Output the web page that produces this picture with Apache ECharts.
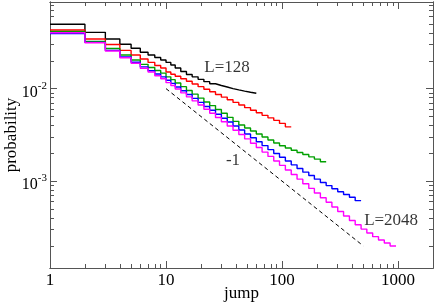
<!DOCTYPE html>
<html><head><meta charset="utf-8">
<script src="https://cdn.jsdelivr.net/npm/echarts@6/dist/echarts.min.js"></script>
<style>html,body{margin:0;padding:0;background:#fff}#c{width:436px;height:304px}</style>
</head><body><div id="c"></div>
<script>
// bin edges of the jump histogram (left edge of each step)
const binEdges = [1,2,3,4,5,6,7,8,9,10,11,12,13.4,15,16.8,18.9,21.2,23.8,26.7,30,33.7,37.8,42.4,47.6,53.5,60,67.3,75.6,84.8,95.1,106.8,120,134.7,151,170,190,214,240,269,302,339,381,427,480,538,604,678,761,854,960];

const probL128 = [0.0496,0.0406,0.0344,0.0302,0.0273,0.0247,0.0231,0.0217,0.0204,0.0192,0.0180,0.0167,0.0153,0.0142,0.0134,0.0126,0.0119,0.0113,0.0108,0.0104,0.0100,0.00968,0.00940,0.00914,0.00892];
const probL256 = [0.0431,0.0344,0.0300,0.0259,0.0231,0.0209,0.0192,0.0178,0.0167,0.0151,0.0143,0.0136,0.0128,0.0120,0.0112,0.0105,0.00983,0.00924,0.00864,0.00810,0.00759,0.00710,0.00665,0.00623,0.00584,0.00548,0.00514,0.00483,0.00454,0.00421,0.00386];
const probL512 = [0.0415,0.0323,0.0272,0.0231,0.0204,0.0183,0.0169,0.0157,0.0147,0.0134,0.0125,0.0115,0.0105,0.00956,0.00872,0.00790,0.00718,0.00655,0.00595,0.00541,0.00489,0.00443,0.00404,0.00375,0.00348,0.00323,0.00300,0.00278,0.00258,0.00241,0.00228,0.00216,0.00204,0.00194,0.00183,0.00173,0.00162];
const probL1024 = [0.0395,0.0316,0.0259,0.0220,0.0193,0.0172,0.0156,0.0144,0.0134,0.0123,0.0114,0.0104,0.00949,0.00864,0.00784,0.00710,0.00642,0.00584,0.00529,0.00478,0.00435,0.00394,0.00357,0.00323,0.00294,0.00266,0.00242,0.00219,0.00199,0.00181,0.00165,0.00150,0.00137,0.00125,0.00115,0.00105,0.000968,0.000894,0.000828,0.000768,0.000717,0.000670,0.000615];
const probL2048 = [0.0402,0.0313,0.0255,0.0216,0.0188,0.0166,0.0151,0.0138,0.0128,0.0116,0.0108,0.00990,0.00899,0.00814,0.00737,0.00664,0.00599,0.00541,0.00488,0.00438,0.00395,0.00355,0.00319,0.00286,0.00257,0.00231,0.00206,0.00185,0.00165,0.00148,0.00132,0.00118,0.00105,0.000935,0.000834,0.000744,0.000662,0.000590,0.000526,0.000469,0.000420,0.000375,0.000337,0.000303,0.000275,0.000251,0.000231,0.000214,0.000199];

const seriesNames = ['L=128','L=256','L=512','L=1024','L=2048'];
const seriesValues = [probL128, probL256, probL512, probL1024, probL2048];
const seriesColors = ['#000000','#ff0000','#00a000','#0000ff','#ff00ff'];

// slope -1 guide line
const guideX = [10, 500];
const guideY = [0.01, 0.0002];

// text annotations
const noteText = ['L=128', '-1', 'L=2048'];
const noteX = [33.6, 37.8, 871];
const noteY = [0.0167, 0.00166, 0.000373];

// axis ticks
const xMajorTicks = [1, 10, 100, 1000];
const xMinorTicks = [2,3,4,5,6,7,8,9,20,30,40,50,60,70,80,90,200,300,400,500,600,700,800,900];
const yMajorTicks = [0.001, 0.01];
const yMinorTicks = [0.0002,0.0003,0.0004,0.0005,0.0006,0.0007,0.0008,0.0009,0.002,0.003,0.004,0.005,0.006,0.007,0.008,0.009,0.02,0.03,0.04,0.05,0.06,0.07,0.08];

const X_MIN = 1, X_MAX = 2000, Y_MIN = 0.000115, Y_MAX = 0.0864;
const AX = '#555';
const FONT = '"Liberation Serif", "DejaVu Serif", serif';

function stepData(vals) {
  const pts = vals.map((v, i) => [binEdges[i], v]);
  pts.push([binEdges[vals.length], vals[vals.length - 1]]);
  return pts;
}

function xAxisDef(pos, ticks, len, withLabels) {
  const a = {
    type: 'log', logBase: 10, min: X_MIN, max: X_MAX, position: pos, gridIndex: 0,
    axisLine: {show: true, onZero: false, lineStyle: {color: AX, width: 1}},
    axisTick: {show: true, inside: true, length: len, customValues: ticks, lineStyle: {color: AX, width: 1}},
    axisLabel: {show: false},
    splitLine: {show: false}, minorTick: {show: false}
  };
  if (withLabels) {
    a.axisLabel = {show: true, customValues: xMajorTicks, margin: 4, color: '#000', fontFamily: FONT, fontSize: 17,
      formatter: v => String(Math.round(v))};
    a.name = 'jump'; a.nameLocation = 'middle'; a.nameGap = 17; a.nameMoveOverlap = false;
    a.nameTextStyle = {color: '#000', fontFamily: FONT, fontSize: 17};
  }
  return a;
}
function yAxisDef(pos, ticks, len, withLabels) {
  const a = {
    type: 'log', logBase: 10, min: Y_MIN, max: Y_MAX, position: pos, gridIndex: 0,
    axisLine: {show: true, onZero: false, lineStyle: {color: AX, width: 1}},
    axisTick: {show: true, inside: true, length: len, customValues: ticks, lineStyle: {color: AX, width: 1}},
    axisLabel: {show: false},
    splitLine: {show: false}, minorTick: {show: false}
  };
  if (withLabels) {
    a.axisLabel = {show: true, customValues: yMajorTicks, margin: 3, color: '#000', fontFamily: FONT,
      formatter: v => '{b|10}{s|' + Math.round(Math.log10(v)) + '}',
      rich: {
        b: {fontFamily: FONT, fontSize: 16, color: '#000', lineHeight: 16, padding: [8, 0, 0, 0]},
        s: {fontFamily: FONT, fontSize: 11, color: '#000', lineHeight: 11, padding: [0, 0, 6, 0]}
      }};
    a.name = 'probability'; a.nameLocation = 'middle'; a.nameGap = 30; a.nameRotate = 90; a.nameMoveOverlap = false;
    a.nameTextStyle = {color: '#000', fontFamily: FONT, fontSize: 17};
  }
  return a;
}

const series = seriesValues.map((vals, i) => ({
  name: seriesNames[i], type: 'line', step: 'end', xAxisIndex: 0, yAxisIndex: 0,
  showSymbol: false, symbol: 'none', silent: true,
  lineStyle: {color: seriesColors[i], width: 1.4}, itemStyle: {color: seriesColors[i]},
  data: stepData(vals), z: 2 + i
}));
series.push({
  type: 'line', xAxisIndex: 0, yAxisIndex: 0, showSymbol: false, symbol: 'none', silent: true,
  lineStyle: {color: '#000', width: 1, type: [4, 3]},
  data: guideX.map((x, i) => [x, guideY[i]]), z: 1
});
series.push({
  type: 'scatter', xAxisIndex: 0, yAxisIndex: 0, symbolSize: 0, silent: true,
  label: {show: true, position: 'inside', color: '#000', fontFamily: FONT, fontSize: 17,
    formatter: p => noteText[p.dataIndex]},
  data: noteX.map((x, i) => [x, noteY[i]]), z: 10
});

const chart = echarts.init(document.getElementById('c'), null, {renderer: 'canvas'});
chart.setOption({
  animation: false,
  backgroundColor: '#fff',
  grid: {left: 50, right: 3, top: 2, bottom: 36, containLabel: false, outerBoundsMode: 'none'},
  xAxis: [
    xAxisDef('bottom', xMajorTicks, 7, true),
    xAxisDef('bottom', xMinorTicks, 4, false),
    xAxisDef('top', xMajorTicks, 7, false),
    xAxisDef('top', xMinorTicks, 4, false)
  ],
  yAxis: [
    yAxisDef('left', yMajorTicks, 7, true),
    yAxisDef('left', yMinorTicks, 4, false),
    yAxisDef('right', yMajorTicks, 7, false),
    yAxisDef('right', yMinorTicks, 4, false)
  ],
  series: series
});
</script></body></html>
